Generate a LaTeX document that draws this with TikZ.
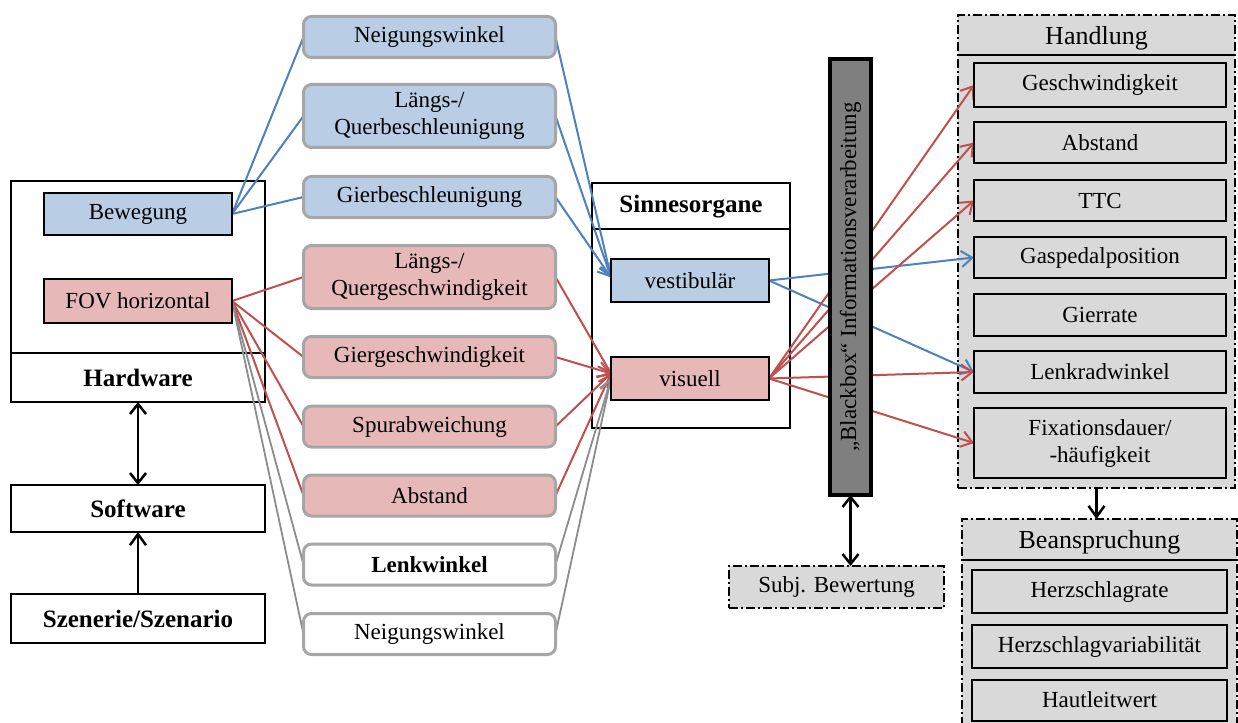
\documentclass[tikz,border=0pt]{standalone}
\usepackage{fontspec}
\setmainfont{Liberation Serif}
\usetikzlibrary{arrows.meta}
\definecolor{cblue}{HTML}{4F81BD}
\definecolor{cred}{HTML}{C0504D}
\definecolor{cgray}{HTML}{8C8C8C}
\definecolor{fblue}{HTML}{B9CDE5}
\definecolor{fred}{HTML}{E6B9B8}
\definecolor{bgray}{HTML}{A6A6A6}
\definecolor{lgray}{HTML}{D9D9D9}
\definecolor{dgray}{HTML}{7F7F7F}
\pgfdeclarelayer{back}
\pgfdeclarelayer{wires}
\pgfsetlayers{back,wires,main}
\begin{document}
\begin{tikzpicture}[x=1pt,y=-1pt,
  every node/.style={inner sep=0pt, outer sep=0pt, align=center,
    font=\fontsize{23}{27}\selectfont},
  bigfont/.style={font=\fontsize{25}{30}\selectfont\bfseries},
  titlefont/.style={font=\fontsize{26}{30}\selectfont},
  plainbox/.style={draw=black, line width=2pt, rectangle},
  varbox/.style={draw=bgray, line width=3pt, rounded corners=8pt,
    minimum width=252, minimum height=41},
  bluebox/.style={varbox, fill=fblue},
  redbox/.style={varbox, fill=fred},
  whitebox/.style={varbox, fill=white},
  dashdot/.style={draw=black, line width=2pt, fill=lgray,
    dash pattern=on 9pt off 3pt on 2pt off 3pt},
  grayitem/.style={plainbox, fill=lgray, minimum width=252},
  tip/.style={-{Straight Barb[length=11pt,width=16pt]}},
  twotip/.style={{Straight Barb[length=10pt,width=16pt]}-{Straight Barb[length=10pt,width=16pt]}},
  bluew/.style={draw=cblue, line width=2pt},
  redw/.style={draw=cred, line width=2pt},
  grayw/.style={draw=cgray, line width=1.8pt},
  blackw/.style={draw=black, line width=2.5pt}
]
\useasboundingbox (0,0) rectangle (1238,722);

% ---------- containers (drawn behind the wires) ----------
\begin{pgfonlayer}{back}
  \fill[white] (0,0) rectangle (1238,722);
  \node[plainbox, minimum width=254, minimum height=221] (hw) at (138,291.5) {};
  \draw[line width=2pt] (11,353) -- (265,353);
  \node[plainbox, line width=1.6pt, minimum width=198, minimum height=245] (sinn) at (691,305.5) {};
  \draw[line width=1.6pt] (592,229) -- (790,229);
  \node[dashdot, minimum width=277, minimum height=473] (hand) at (1096.5,251.5) {};
  \draw[line width=1.6pt] (958,55) -- (1235,55);
  \node[dashdot, minimum width=275, minimum height=221] (bean) at (1099.5,629.5) {};
  \draw[line width=1.6pt] (962,560) -- (1237,560);
\end{pgfonlayer}

% ---------- simulator side ----------
\node[bigfont] (hwlabel) at (138,378) {Hardware};
\node[plainbox, fill=fblue, minimum width=188, minimum height=42] (bew) at (138,214) {Bewegung};
\node[plainbox, fill=fred, minimum width=188, minimum height=44] (fov) at (138,301) {FOV horizontal};
\node[plainbox, bigfont, minimum width=254, minimum height=47] (sw) at (138,508.5) {Software};
\node[plainbox, bigfont, minimum width=254, minimum height=49] (sz) at (138,618.5) {Szenerie/Szenario};

% ---------- cues ----------
\node[bluebox] (n1) at (429.5,37) {Neigungswinkel};
\node[bluebox, minimum height=63] (n2) at (429.5,116) {Längs-/\\Querbeschleunigung};
\node[bluebox] (n3) at (429.5,197) {Gierbeschleunigung};
\node[redbox, minimum height=63] (n4) at (429.5,277) {Längs-/\\Quergeschwindigkeit};
\node[redbox] (n5) at (429.5,357) {Giergeschwindigkeit};
\node[redbox] (n6) at (429.5,426.5) {Spurabweichung};
\node[redbox] (n7) at (429.5,495.5) {Abstand};
\node[whitebox, font=\fontsize{23}{27}\selectfont\bfseries] (n8) at (429.5,564.5) {Lenkwinkel};
\node[whitebox] (n9) at (429.5,634) {Neigungswinkel};

% ---------- sense organs ----------
\node[bigfont] (sinnlabel) at (691,207) {Sinnesorgane};
\node[plainbox, fill=fblue, minimum width=158, minimum height=43] (vest) at (690,280.5) {vestibulär};
\node[plainbox, fill=fred, minimum width=158, minimum height=43] (vis) at (690,378.5) {visuell};
\coordinate (vin) at ([yshift=3pt]vest.west);
\coordinate (visr) at ([yshift=5pt]vis.west);
\coordinate (visg) at (vis.west);

% ---------- processing ----------
\node[draw=black, line width=4.5pt, fill=dgray, minimum width=41, minimum height=436] (bb) at (850.5,277) {};
\node[rotate=90] (bblabel) at (bb.center) {„Blackbox“ Informationsverarbeitung};
\node[dashdot, minimum width=215, minimum height=42] (subj) at (836.5,587) {Subj. Bewertung};

% ---------- behaviour ----------
\node[titlefont] (handlabel) at (1096.5,38) {Handlung};
\node[grayitem, minimum height=44] (h1) at (1100,85) {Geschwindigkeit};
\node[grayitem, minimum height=41] (h2) at (1100,142.5) {Abstand};
\node[grayitem, minimum height=41] (h3) at (1100,200.5) {TTC};
\node[grayitem, minimum height=41] (h4) at (1100,257.5) {Gaspedalposition};
\node[grayitem, minimum height=42] (h5) at (1100,315) {Gierrate};
\node[grayitem, minimum height=42] (h6) at (1100,372) {Lenkradwinkel};
\node[grayitem, minimum height=70] (h7) at (1100,443) {Fixationsdauer/\\-häufigkeit};

% ---------- strain ----------
\node[titlefont] (beanlabel) at (1099.5,542) {Beanspruchung};
\node[grayitem, minimum width=255, minimum height=43] (b1) at (1099.5,591.5) {Herzschlagrate};
\node[grayitem, minimum width=255, minimum height=43] (b2) at (1099.5,646.5) {Herzschlagvariabilität};
\node[grayitem, minimum width=255, minimum height=41] (b3) at (1099.5,700) {Hautleitwert};

% ---------- connectors ----------
\begin{pgfonlayer}{wires}
  \foreach \n in {n1,n2,n3} {
    \draw[bluew] (bew.east) -- (\n.west);
    \draw[bluew, tip] (\n.east) -- (vin);
  }
  \foreach \n in {n4,n5,n6,n7} {
    \draw[redw] (fov.east) -- (\n.west);
    \draw[redw, tip] (\n.east) -- (visr);
  }
  \foreach \n in {n8,n9} {
    \draw[grayw] (fov.east) -- (\n.west);
    \draw[grayw, tip] (\n.east) -- (visg);
  }
  \foreach \h in {h4,h6} {
    \draw[bluew, tip] (vest.east) -- (\h.west);
  }
  \foreach \h in {h1,h2,h3,h6,h7} {
    \draw[redw, tip] (vis.east) -- (\h.west);
  }
\end{pgfonlayer}

\draw[blackw, twotip] (hw.south) -- (sw.north);
\draw[blackw, tip] (sz.north) -- (sw.south);
\draw[blackw, twotip] (bb.south) -- (bb.south |- subj.north);
\draw[blackw, tip] (hand.south) -- (hand.south |- bean.north);
\end{tikzpicture}
\end{document}
